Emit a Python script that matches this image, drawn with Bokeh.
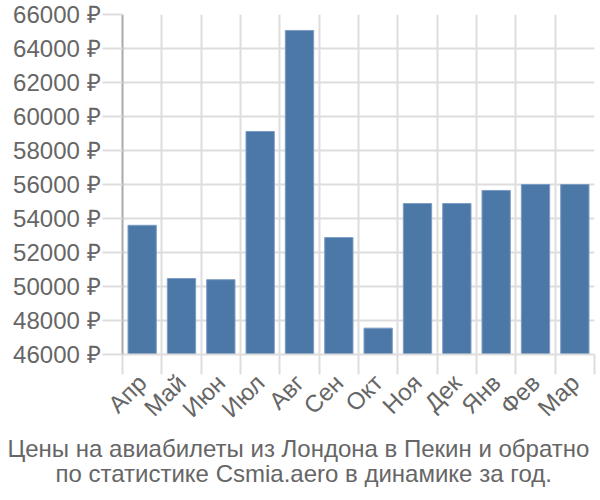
import math
from bokeh.plotting import figure
from bokeh.models import Range1d, FixedTicker, Title
from bokeh.embed import file_html
from bokeh.resources import INLINE

months = ["Апр", "Май", "Июн", "Июл", "Авг", "Сен", "Окт", "Ноя", "Дек", "Янв", "Фев", "Мар"]
prices = [53600, 50470, 50400, 59120, 65060, 52880, 47550, 54880, 54880, 55650, 56000, 56000]
y_ticks = [46000, 48000, 50000, 52000, 54000, 56000, 58000, 60000, 62000, 64000, 66000]
title_lines = ["Цены на авиабилеты из Лондона в Пекин и обратно",
               "по статистике Csmia.aero в динамике за год."]

FONT = "Liberation Sans"
TXT = "#666666"
GRID = "#dddddd"

n = len(months)
centers = [i + 0.5 for i in range(n)]
bounds = list(range(n + 1))

p = figure(width=600, height=500, output_backend="svg", toolbar_location=None,
           x_range=Range1d(0, n), y_range=Range1d(y_ticks[0], y_ticks[-1]),
           min_border_left=122, min_border_right=6, min_border_top=14, min_border_bottom=146)
p.outline_line_color = None
p.background_fill_color = "white"

p.vbar(x=centers, top=prices, bottom=y_ticks[0], width=0.72,
       fill_color="#4c78a8", line_color="#7d9cc4", line_width=1)

# x axis
xa = p.xaxis[0]
xa.ticker = FixedTicker(ticks=centers, minor_ticks=bounds)
xa.major_label_overrides = {c: m for c, m in zip(centers, months)}
xa.major_tick_out = 0
xa.major_tick_in = 0
xa.minor_tick_out = 20
xa.minor_tick_in = 0
xa.minor_tick_line_color = GRID
xa.minor_tick_line_width = 2
xa.axis_line_color = GRID
xa.axis_line_width = 2
xa.major_label_orientation = math.pi / 4
xa.major_label_text_font = FONT
xa.major_label_text_font_size = "24px"
xa.major_label_text_color = TXT
xa.major_label_standoff = 4

# y axis
ya = p.yaxis[0]
ya.ticker = FixedTicker(ticks=y_ticks)
ya.major_label_overrides = {v: f"{v} ₽" for v in y_ticks}
ya.major_tick_out = 20
ya.major_tick_in = 0
ya.major_tick_line_color = GRID
ya.major_tick_line_width = 2
ya.minor_tick_line_color = None
ya.axis_line_color = "#aaaaaa"
ya.axis_line_width = 2
ya.major_label_text_font = FONT
ya.major_label_text_font_size = "24px"
ya.major_label_text_color = TXT
ya.major_label_standoff = 2

p.xgrid.ticker = FixedTicker(ticks=bounds)
p.xgrid.grid_line_color = GRID
p.xgrid.grid_line_width = 2
p.ygrid.ticker = FixedTicker(ticks=y_ticks)
p.ygrid.grid_line_color = GRID
p.ygrid.grid_line_width = 2

offsets = [7 - 122, 55 - 122]
standoffs = [-6, -2]
for line, off, so in zip(title_lines, offsets, standoffs):
    p.add_layout(Title(text=line, align="left", offset=off, text_font=FONT,
                       text_font_size="24px", text_color=TXT, text_font_style="normal",
                       standoff=so), "below")

open("out.html", "w").write(file_html(p, INLINE))
